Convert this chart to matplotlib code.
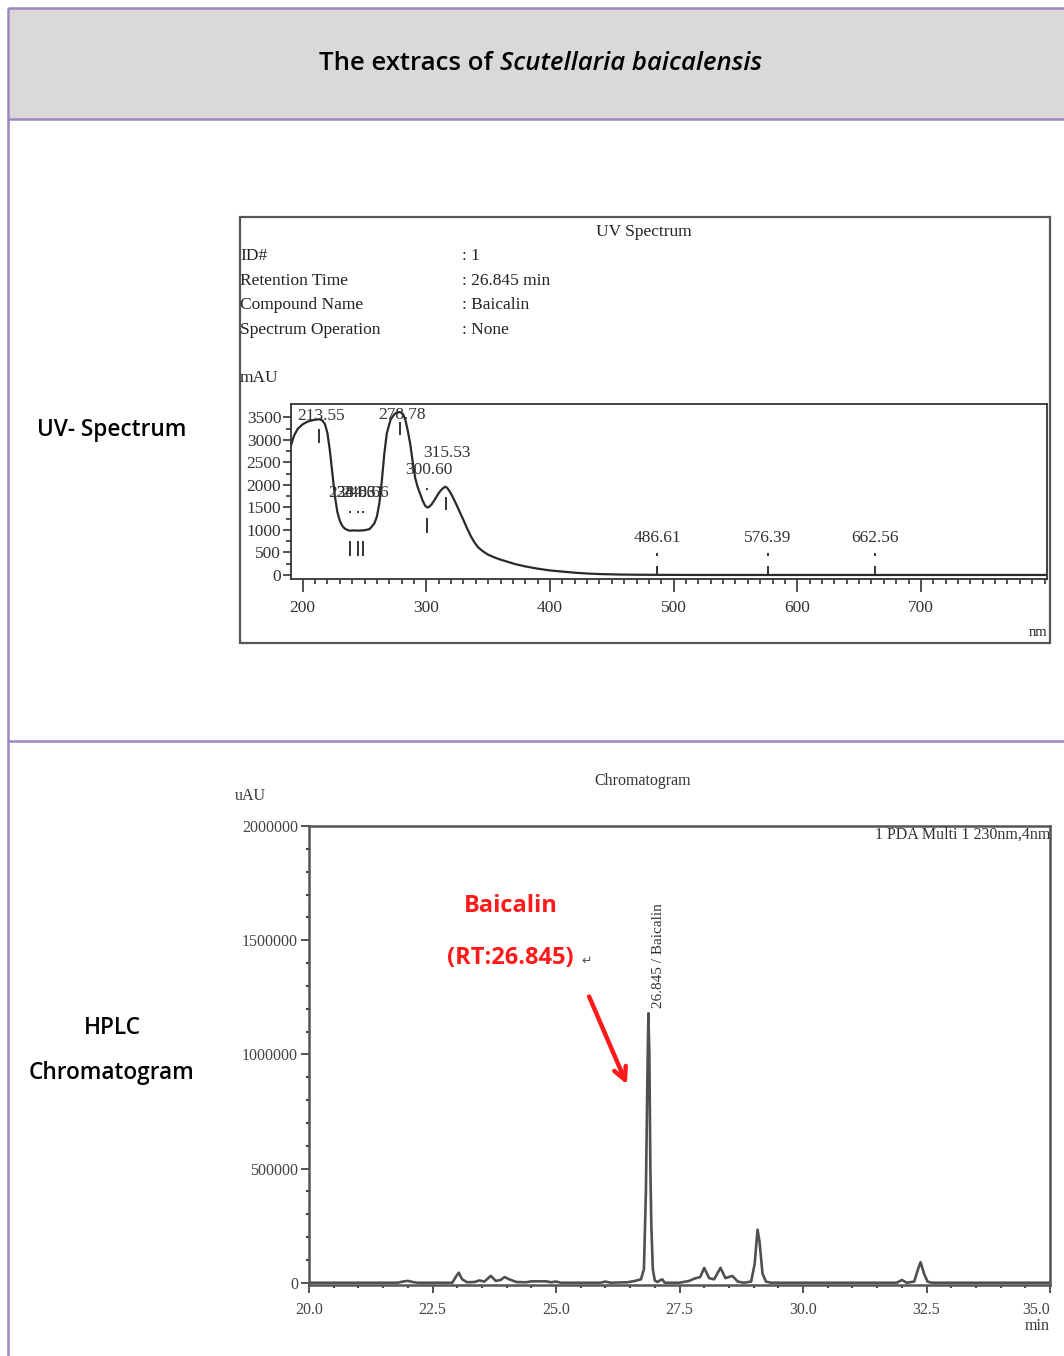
import matplotlib
matplotlib.use("Agg")
import matplotlib.pyplot as plt
from matplotlib.patches import Rectangle
import numpy as np

plt.rcParams['font.family'] = 'Liberation Serif'

# ---- UV spectrum of baicalin peak (nm, mAU)
uv_nm = [190.5, 193, 196, 200, 204, 208, 211, 213.55, 216, 218, 220, 222, 224, 226,
         228, 230, 232, 234, 237, 238.03, 241, 244.61, 247, 248.66, 251, 254, 256,
         258, 260, 262, 264, 266, 268, 271, 274, 276, 278.78, 281, 283, 285, 287,
         289, 291, 293, 295, 297, 299, 300.6, 302, 304, 306, 308, 310, 312, 314,
         315.53, 317, 319, 321, 324, 327, 330, 333, 336, 339, 342, 346, 350, 355,
         360, 366, 372, 380, 390, 400, 410, 420, 430, 440, 455, 470, 490, 520, 802]
uv_mau = [2880, 3100, 3250, 3350, 3410, 3440, 3455, 3460, 3430, 3350, 3150, 2750, 2250, 1750,
          1400, 1200, 1090, 1030, 990, 985, 990, 985, 990, 990, 1000, 1020, 1080,
          1150, 1300, 1600, 2100, 2700, 3150, 3450, 3570, 3610, 3620, 3580, 3450, 3200, 2900,
          2500, 2150, 1950, 1800, 1650, 1540, 1500, 1510, 1560, 1640, 1730, 1820, 1890, 1940,
          1960, 1930, 1850, 1750, 1580, 1400, 1220, 1030, 860, 720, 610, 520, 450, 390,
          340, 290, 240, 190, 140, 100, 75, 50, 32, 20, 10, 5, 2, 0, 0]

uv_max = [213.55, 278.78, 315.53]
uv_min = [238.03, 244.61, 248.66, 300.60]
uv_far = [486.61, 576.39, 662.56]

uv_info = [("ID#", ": 1"),
           ("Retention Time", ": 26.845 min"),
           ("Compound Name", ": Baicalin"),
           ("Spectrum Operation", ": None")]

# ---- HPLC chromatogram, PDA 230 nm (min, uAU)
rt = [20.0, 21.8, 21.9, 22.0, 22.1, 22.2, 22.9, 22.97, 23.03, 23.1, 23.2, 23.35, 23.45,
      23.55, 23.68, 23.78, 23.88, 23.96, 24.05, 24.2, 24.4, 24.5, 24.8, 24.9, 25.0, 25.1,
      25.9, 26.0, 26.1, 26.45, 26.6, 26.72, 26.78, 26.82, 26.85, 26.87, 26.89, 26.91,
      26.93, 26.96, 27.0, 27.05, 27.15, 27.2, 27.5, 27.7, 27.8, 27.92, 28.0, 28.1, 28.2,
      28.33, 28.43, 28.57, 28.68, 28.8, 28.95, 29.02, 29.08, 29.12, 29.18, 29.25, 29.35,
      31.9, 32.0, 32.1, 32.25, 32.33, 32.38, 32.45, 32.52, 32.6, 35.0]
sig = [0, 0, 5000, 8000, 3000, 0, 0, 25000, 44000, 15000, 2000, 3000, 10000,
       5000, 30000, 8000, 12000, 25000, 15000, 3000, 2000, 6000, 6000, 2000, 5000, 0,
       0, 5000, 0, 2000, 8000, 15000, 60000, 400000, 900000, 1180000, 1000000, 500000,
       250000, 60000, 10000, 3000, 15000, 0, 0, 8000, 18000, 25000, 65000, 20000, 15000,
       65000, 20000, 30000, 5000, 0, 5000, 80000, 232000, 180000, 40000, 5000, 0,
       0, 12000, 0, 5000, 60000, 90000, 40000, 5000, 0, 0]

peak_rt = 26.845
peak_h = 1180000

W, H = 1064, 1356
fig = plt.figure(figsize=(W / 100, H / 100), dpi=100)


def px_axes(l, t, r, b):
    return fig.add_axes([l / W, 1 - b / H, (r - l) / W, (b - t) / H])


# page / table in pixel coordinates
bg = fig.add_axes([0, 0, 1, 1], zorder=0)
bg.set_xlim(0, W)
bg.set_ylim(H, 0)
bg.axis('off')

bg.add_patch(Rectangle((8, 8), W - 8, 111, facecolor='#d9d9d9', edgecolor='none'))
grid_c = '#9d87c2'
for xs, ys in [([8, W], [8, 8]), ([8, W], [119, 119]), ([8, W], [741, 741]), ([8, 8], [8, H])]:
    bg.plot(xs, ys, color=grid_c, lw=1.8, solid_capstyle='butt')

sans = ['Open Sans', 'DejaVu Sans']
bg.text(493, 64, "The extracs of", ha='right', va='center', fontsize=18.5,
        family=sans, weight='semibold')
bg.text(500, 64, "Scutellaria baicalensis", ha='left', va='center', fontsize=18.5,
        family=sans, weight='semibold', style='italic')

row_kw = dict(ha='center', va='center', fontsize=16.3, family=sans, weight='semibold')
bg.text(112, 430, "UV- Spectrum", **row_kw)
bg.text(112, 1028, "HPLC", **row_kw)
bg.text(112, 1073, "Chromatogram", **row_kw)

# UV report frame and header text
bg.add_patch(Rectangle((240, 217), 810, 426, fill=False, edgecolor='#555555', lw=1.6))
bg.text(644, 232, "UV Spectrum", ha='center', va='center', fontsize=12.5, color='#222')
for i, (k, v) in enumerate(uv_info):
    y = 256 + i * 24.7
    bg.text(240, y, k, ha='left', va='center', fontsize=12.5, color='#222')
    bg.text(462, y, v, ha='left', va='center', fontsize=12.5, color='#222')
bg.text(240, 378, "mAU", ha='left', va='center', fontsize=12.5, color='#222')
bg.text(1047, 632, "nm", ha='right', va='center', fontsize=10.5, color='#222')

# chromatogram header text
bg.text(643, 781, "Chromatogram", ha='center', va='center', fontsize=11.5, color='#333')
bg.text(250, 796, "uAU", ha='center', va='center', fontsize=11.5, color='#333')
bg.text(1050, 1326, "min", ha='right', va='center', fontsize=11.5, color='#333')

# red annotation
red_kw = dict(ha='center', va='center', fontsize=17, family=sans, weight='bold',
              color='#ff1a1a')
bg.text(511, 906, "Baicalin", **red_kw)
bg.text(510, 958, "(RT:26.845)", **red_kw)
bg.text(581, 961, "\u21b5", ha='left', va='center', fontsize=9, family='DejaVu Sans',
        color='#555')
bg.annotate('', xy=(628, 1087), xytext=(588, 994),
            arrowprops=dict(arrowstyle='->,head_length=0.9,head_width=0.45',
                            color='#ff1a1a', lw=3.2))

# ---- UV spectrum axes
ax1 = px_axes(291, 404, 1047, 579)
ax1.set_zorder(1)
ax1.patch.set_visible(False)
ax1.plot(uv_nm, uv_mau, color='#2a2a2a', lw=1.6)
ax1.set_xlim(190.5, 802)
ax1.set_ylim(-90, 3800)
ax1.set_yticks(range(0, 3501, 500))
ax1.set_yticks(range(250, 3600, 500), minor=True)
ax1.set_xticks(range(200, 701, 100))
ax1.set_xticks(range(200, 801, 10), minor=True)
ax1.tick_params(which='major', length=6, width=1.2, labelsize=12.5, colors='#333', pad=1)
ax1.tick_params(axis='x', which='major', length=9, pad=6)
ax1.tick_params(which='minor', length=3.5, width=1.2, colors='#333')
for s in ax1.spines.values():
    s.set_color('#333')
    s.set_linewidth(1.3)

lbl = dict(ha='center', va='center', fontsize=12.5, color='#333')
uv_val = lambda w: float(np.interp(w, uv_nm, uv_mau))
max_dy = [80, -60, 750]
for w, dy in zip(uv_max, max_dy):
    v = uv_val(w)
    ax1.text(w + 1.5, v + dy, f"{w:.2f}", **lbl)
    ax1.vlines(w, v - 520, v - 220, color='#333', lw=1.4)
for w in uv_min:
    v = uv_val(w)
    ax1.text(w + 1.5, v + 830, f"{w:.2f}", **lbl)
    ax1.vlines(w, v + 390, v + 490, color='#333', lw=1.4, linestyles=(0, (1, 1.5)))
    ax1.vlines(w, v - 560, v - 230, color='#333', lw=1.4)
for w in uv_far:
    ax1.text(w, 820, f"{w:.2f}", **lbl)
    ax1.vlines(w, 430, 490, color='#333', lw=1.4)
    ax1.vlines(w, 0, 190, color='#333', lw=1.4)

# ---- HPLC chromatogram axes
ax2 = px_axes(309, 826, 1050, 1285)
ax2.set_zorder(1)
ax2.patch.set_visible(False)
ax2.plot(rt, sig, color='#505050', lw=1.9)
ax2.set_xlim(20, 35)
ax2.set_ylim(-10000, 2000000)
yt = [0, 500000, 1000000, 1500000, 2000000]
ax2.set_yticks(yt, [str(v) for v in yt])
ax2.set_yticks(np.arange(0, 2000001, 100000), minor=True)
xt = [20.0, 22.5, 25.0, 27.5, 30.0, 32.5, 35.0]
ax2.set_xticks(xt, [f"{v:.1f}" for v in xt])
ax2.set_xticks(np.arange(20, 35.01, 0.5), minor=True)
ax2.tick_params(which='major', length=6, width=1.3, labelsize=11.5, colors='#444', pad=2)
ax2.tick_params(axis='x', which='major', pad=6)
ax2.tick_params(which='minor', length=2.5, width=1.5, colors='#444')
ax2.get_xticklabels()[-1].set_horizontalalignment('right')
for s in ax2.spines.values():
    s.set_color('#555')
    s.set_linewidth(1.8)

ax2.text(35, 1960000, "1 PDA Multi 1 230nm,4nm", ha='right', va='center',
         fontsize=11.5, color='#333')
ax2.text(peak_rt + 0.22, peak_h + 25000, "26.845 / Baicalin", rotation=90,
         ha='center', va='bottom', fontsize=11, color='#333')

fig.savefig("out.png", dpi=100)
